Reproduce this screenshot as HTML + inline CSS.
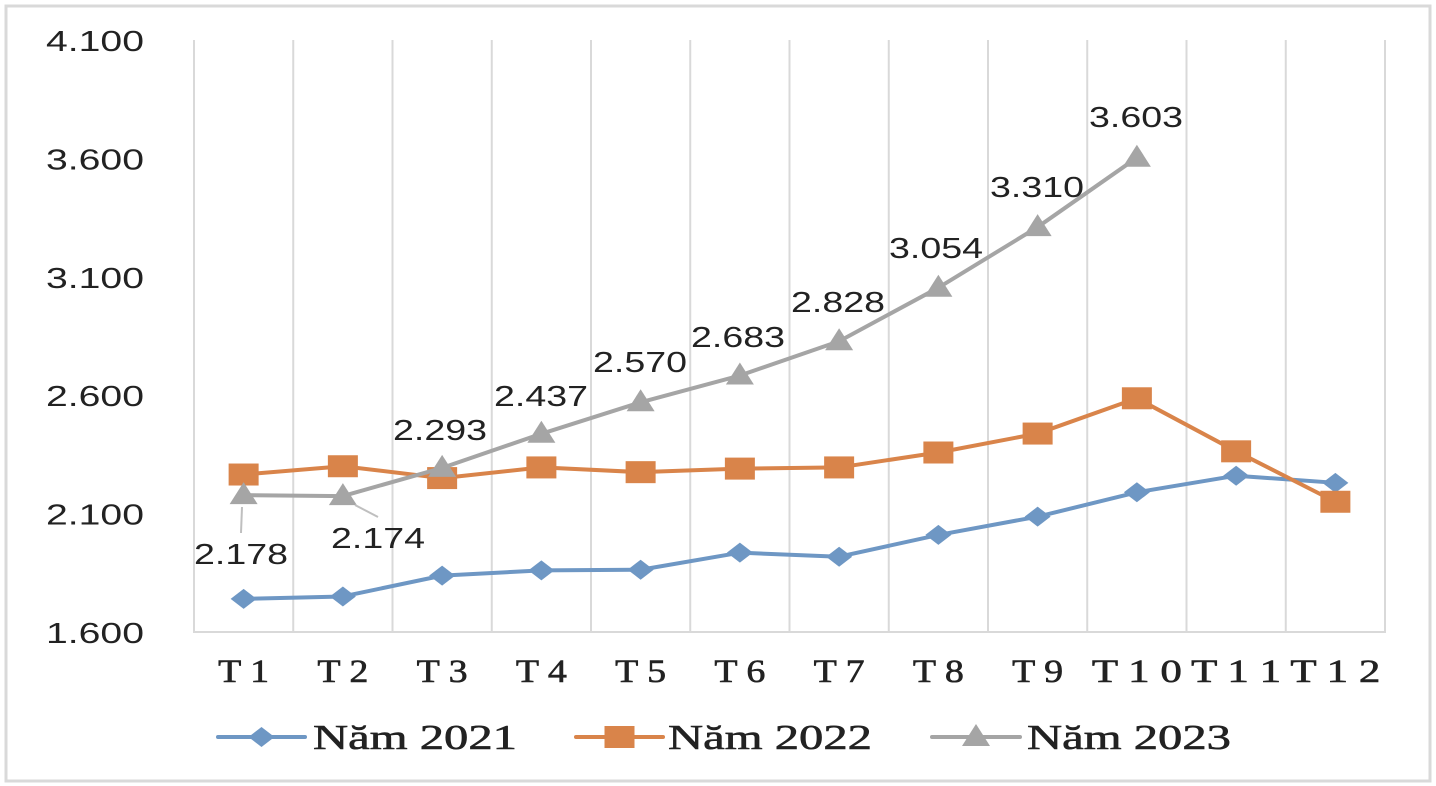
<!DOCTYPE html>
<html><head><meta charset="utf-8"><style>html,body{margin:0;padding:0;background:#fff}svg{display:block}</style></head>
<body>
<svg id="s" width="1436" height="786" xmlns="http://www.w3.org/2000/svg"></svg>
<script>
var s=document.getElementById('s');var h='';
h+='<rect x="6" y="6" width="1424" height="775" fill="#fff" stroke="#d9d9d9" stroke-width="3"/>';
function Y(v){return 632-(v-1600)*0.2368;}
function X(i){return 194+99.25*(i+0.5);}
for(var k=0;k<=12;k++){var x=194+99.25*k;h+='<line x1="'+x+'" y1="40" x2="'+x+'" y2="632" stroke="#d9d9d9" stroke-width="2"/>';}
h+='<line x1="193" y1="632" x2="1386" y2="632" stroke="#d9d9d9" stroke-width="2"/>';
var yl=[[4100,'4.100'],[3600,'3.600'],[3100,'3.100'],[2600,'2.600'],[2100,'2.100'],[1600,'1.600']];
yl.forEach(function(a){h+='<text x="46" y="'+(Y(a[0])+11)+'" font-family="Liberation Sans, sans-serif" font-size="29" fill="#222" textLength="98" lengthAdjust="spacingAndGlyphs">'+a[1]+'</text>';});
for(var i=0;i<12;i++){var t='T '+(i+1).toString().split('').join(' ');var w=i<9?51:90;
h+='<text x="'+(X(i)-w/2)+'" y="682" font-family="Liberation Serif, serif" font-size="33" fill="#222" stroke="#222" stroke-width="0.6" textLength="'+w+'" lengthAdjust="spacingAndGlyphs">'+t+'</text>';}
var d1=[1740,1750,1838,1860,1863,1935,1918,2010,2087,2190,2260,2230];
var d2=[2265,2300,2250,2295,2275,2290,2295,2358,2438,2587,2363,2150];
var d3=[2178,2174,2293,2437,2570,2683,2828,3054,3310,3603];
function line(d,c){var p=d.map(function(v,i){return X(i)+','+Y(v)}).join(' ');return '<polyline points="'+p+'" fill="none" stroke="'+c+'" stroke-width="4" stroke-linejoin="round"/>';}
function dia(x,y){return '<polygon points="'+(x-13)+','+y+' '+x+','+(y-10)+' '+(x+13)+','+y+' '+x+','+(y+10)+'" fill="#6e97c4"/>';}
function sq(x,y){return '<rect x="'+(x-15)+'" y="'+(y-11)+'" width="30" height="22" fill="#d9844a"/>';}
function tri(x,y){return '<polygon points="'+(x-14)+','+(y+9)+' '+x+','+(y-13)+' '+(x+14)+','+(y+9)+'" fill="#a5a5a5"/>';}
h+=line(d1,'#6e97c4');d1.forEach(function(v,i){h+=dia(X(i),Y(v));});
h+=line(d2,'#d9844a');d2.forEach(function(v,i){h+=sq(X(i),Y(v));});
h+=line(d3,'#a5a5a5');d3.forEach(function(v,i){h+=tri(X(i),Y(v));});
h+='<line x1="242" y1="507" x2="241" y2="533" stroke="#bfbfbf" stroke-width="2"/>';
h+='<line x1="355" y1="505" x2="378" y2="517" stroke="#bfbfbf" stroke-width="2"/>';
var lb=[[241,564],[378,548],[440,440],[541,406],[640,372],[738,347],[838,312],[936,258],[1037,197],[1136,127]];
lb.forEach(function(a,i){var t=d3[i].toString();t=t[0]+'.'+t.slice(1);
h+='<text x="'+(a[0]-47)+'" y="'+a[1]+'" font-family="Liberation Sans, sans-serif" font-size="29" fill="#222" textLength="94" lengthAdjust="spacingAndGlyphs">'+t+'</text>';});
var lg=[[218,305,313,'Năm 2021','d'],[576,663,668,'Năm 2022','s'],[932,1020,1027,'Năm 2023','t']];
lg.forEach(function(a){var c=a[4]=='d'?'#6e97c4':a[4]=='s'?'#d9844a':'#a5a5a5';
h+='<line x1="'+a[0]+'" y1="737" x2="'+a[1]+'" y2="737" stroke="'+c+'" stroke-width="4" stroke-linecap="round"/>';
var m=(a[0]+a[1])/2;h+=a[4]=='d'?dia(m,737):a[4]=='s'?sq(m,737):tri(m,737);
h+='<text x="'+a[2]+'" y="749" font-family="Liberation Serif, serif" font-size="35" fill="#222" stroke="#222" stroke-width="0.6" textLength="204" lengthAdjust="spacingAndGlyphs">'+a[3]+'</text>';});
s.innerHTML=h;
</script>
</body></html>
